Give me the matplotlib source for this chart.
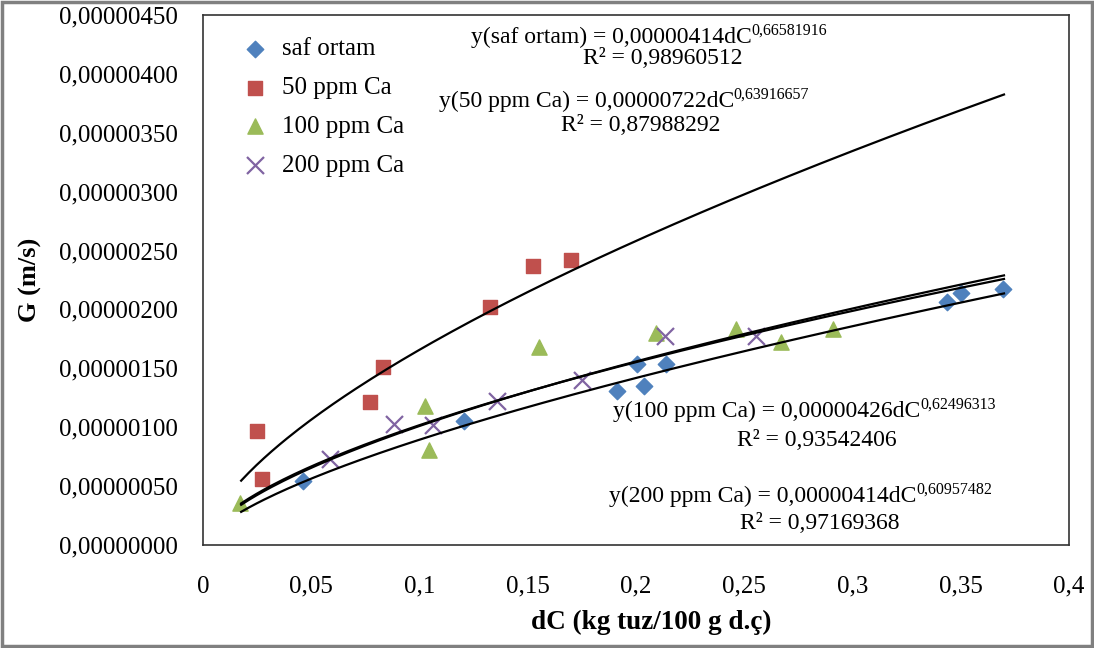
import numpy as np
import matplotlib
matplotlib.use("Agg")
import matplotlib.pyplot as plt
from matplotlib.patches import Rectangle

plt.rcParams["font.family"] = ["Liberation Serif", "DejaVu Serif"]

# data
saf_x = [0.0463, 0.1204, 0.191, 0.2005, 0.2037, 0.214, 0.3435, 0.350, 0.3694]
saf_y = [0.546e-6, 1.05e-6, 1.31e-6, 1.54e-6, 1.35e-6, 1.54e-6, 2.06e-6, 2.14e-6, 2.17e-6]

ca50_x = [0.025, 0.0273, 0.0769, 0.0829, 0.1324, 0.1523, 0.170]
ca50_y = [0.964e-6, 0.563e-6, 1.21e-6, 1.51e-6, 2.02e-6, 2.37e-6, 2.42e-6]

ca100_x = [0.0171, 0.1023, 0.1042, 0.155, 0.2093, 0.2463, 0.267, 0.291]
ca100_y = [0.358e-6, 1.18e-6, 0.81e-6, 1.68e-6, 1.80e-6, 1.83e-6, 1.72e-6, 1.83e-6]

ca200_x = [0.0588, 0.088, 0.106, 0.136, 0.175, 0.2134, 0.2556]
ca200_y = [0.734e-6, 1.03e-6, 1.015e-6, 1.22e-6, 1.40e-6, 1.775e-6, 1.77e-6]

# power-law trendlines y = a * dC^b
fit_a = [0.00000414, 0.00000722, 0.00000426, 0.00000414]
fit_b = [0.66581916, 0.63916657, 0.62496313, 0.60957482]
fit_names = ["saf ortam", "50 ppm Ca", "100 ppm Ca", "200 ppm Ca"]
fit_r2 = ["0,98960512", "0,87988292", "0,93542406", "0,97169368"]
fit_a_txt = ["0,00000414", "0,00000722", "0,00000426", "0,00000414"]
fit_b_txt = ["0,66581916", "0,63916657", "0,62496313", "0,60957482"]

y_ticks = np.arange(0, 4.51e-6, 0.5e-6)
x_ticks = np.arange(0, 0.401, 0.05)

fig = plt.figure(figsize=(10.94, 6.48), dpi=100)
ax = fig.add_axes([0.1856, 0.159, 0.7915, 0.818])

ax.scatter(saf_x, saf_y, marker="D", s=70, color="#4F81BD", label="saf ortam", zorder=3)
ax.scatter(ca50_x, ca50_y, marker="s", s=110, color="#C0504D", label="50 ppm Ca", zorder=3)
ax.scatter(ca100_x, ca100_y, marker="^", s=120, color="#9BBB59", label="100 ppm Ca", zorder=3)
ax.scatter(ca200_x, ca200_y, marker="x", s=150, color="#8064A2", linewidths=1.6,
           label="200 ppm Ca", zorder=3)

xx = np.linspace(0.0176, 0.37, 200)
for a, b in zip(fit_a, fit_b):
    ax.plot(xx, a * xx ** b, color="black", lw=1.6, zorder=4)

# equation labels (left x, y) and R^2 centre positions
eq_pos = [(0.1236, 4.31e-6), (0.1088, 3.763e-6), (0.1894, 1.135e-6), (0.1875, 0.41e-6)]
r2_pos = [(0.2125, 4.13e-6), (0.2023, 3.558e-6), (0.2833, 0.887e-6), (0.2847, 0.179e-6)]
for name, at, bt, r2, ep, rp in zip(fit_names, fit_a_txt, fit_b_txt, fit_r2, eq_pos, r2_pos):
    t = ax.text(ep[0], ep[1], f"y({name}) = {at}dC", fontsize=17, ha="left", va="center")
    ax.annotate(bt, xy=(1, 1), xycoords=t, xytext=(0, 3), textcoords="offset points",
                fontsize=11.5, ha="left", va="top")
    ax.text(rp[0], rp[1], f"R² = {r2}", fontsize=17, ha="center", va="center")

ax.set_xlim(0, 0.4)
ax.set_ylim(0, 4.5e-6)
ax.set_xticks(x_ticks)
ax.set_yticks(y_ticks)
ax.set_xticklabels([f"{v:g}".replace(".", ",") for v in x_ticks])
ax.set_yticklabels([f"{v:.8f}".replace(".", ",") for v in y_ticks])
ax.tick_params(length=0, labelsize=18)
ax.tick_params(axis="y", pad=18)
ax.tick_params(axis="x", pad=22)
for s in ax.spines.values():
    s.set_color("#333333")
    s.set_linewidth(1.2)

ax.set_xlabel("dC (kg tuz/100 g d.ç)", fontsize=19.5, fontweight="bold")
ax.set_ylabel("G (m/s)", fontsize=19, fontweight="bold")
ax.xaxis.set_label_coords(0.518, -0.123)
ax.yaxis.set_label_coords(-0.186, 0.5)

ax.legend(loc="upper left", bbox_to_anchor=(0.014, 0.985), frameon=False, fontsize=18,
          handletextpad=0.06, labelspacing=0.65, borderaxespad=0.2, scatterpoints=1)

fig.add_artist(Rectangle((0.002, 0.003), 0.996, 0.994, transform=fig.transFigure,
                         fill=False, edgecolor="#808080", lw=2.5))

fig.savefig("out.png", dpi=100)
